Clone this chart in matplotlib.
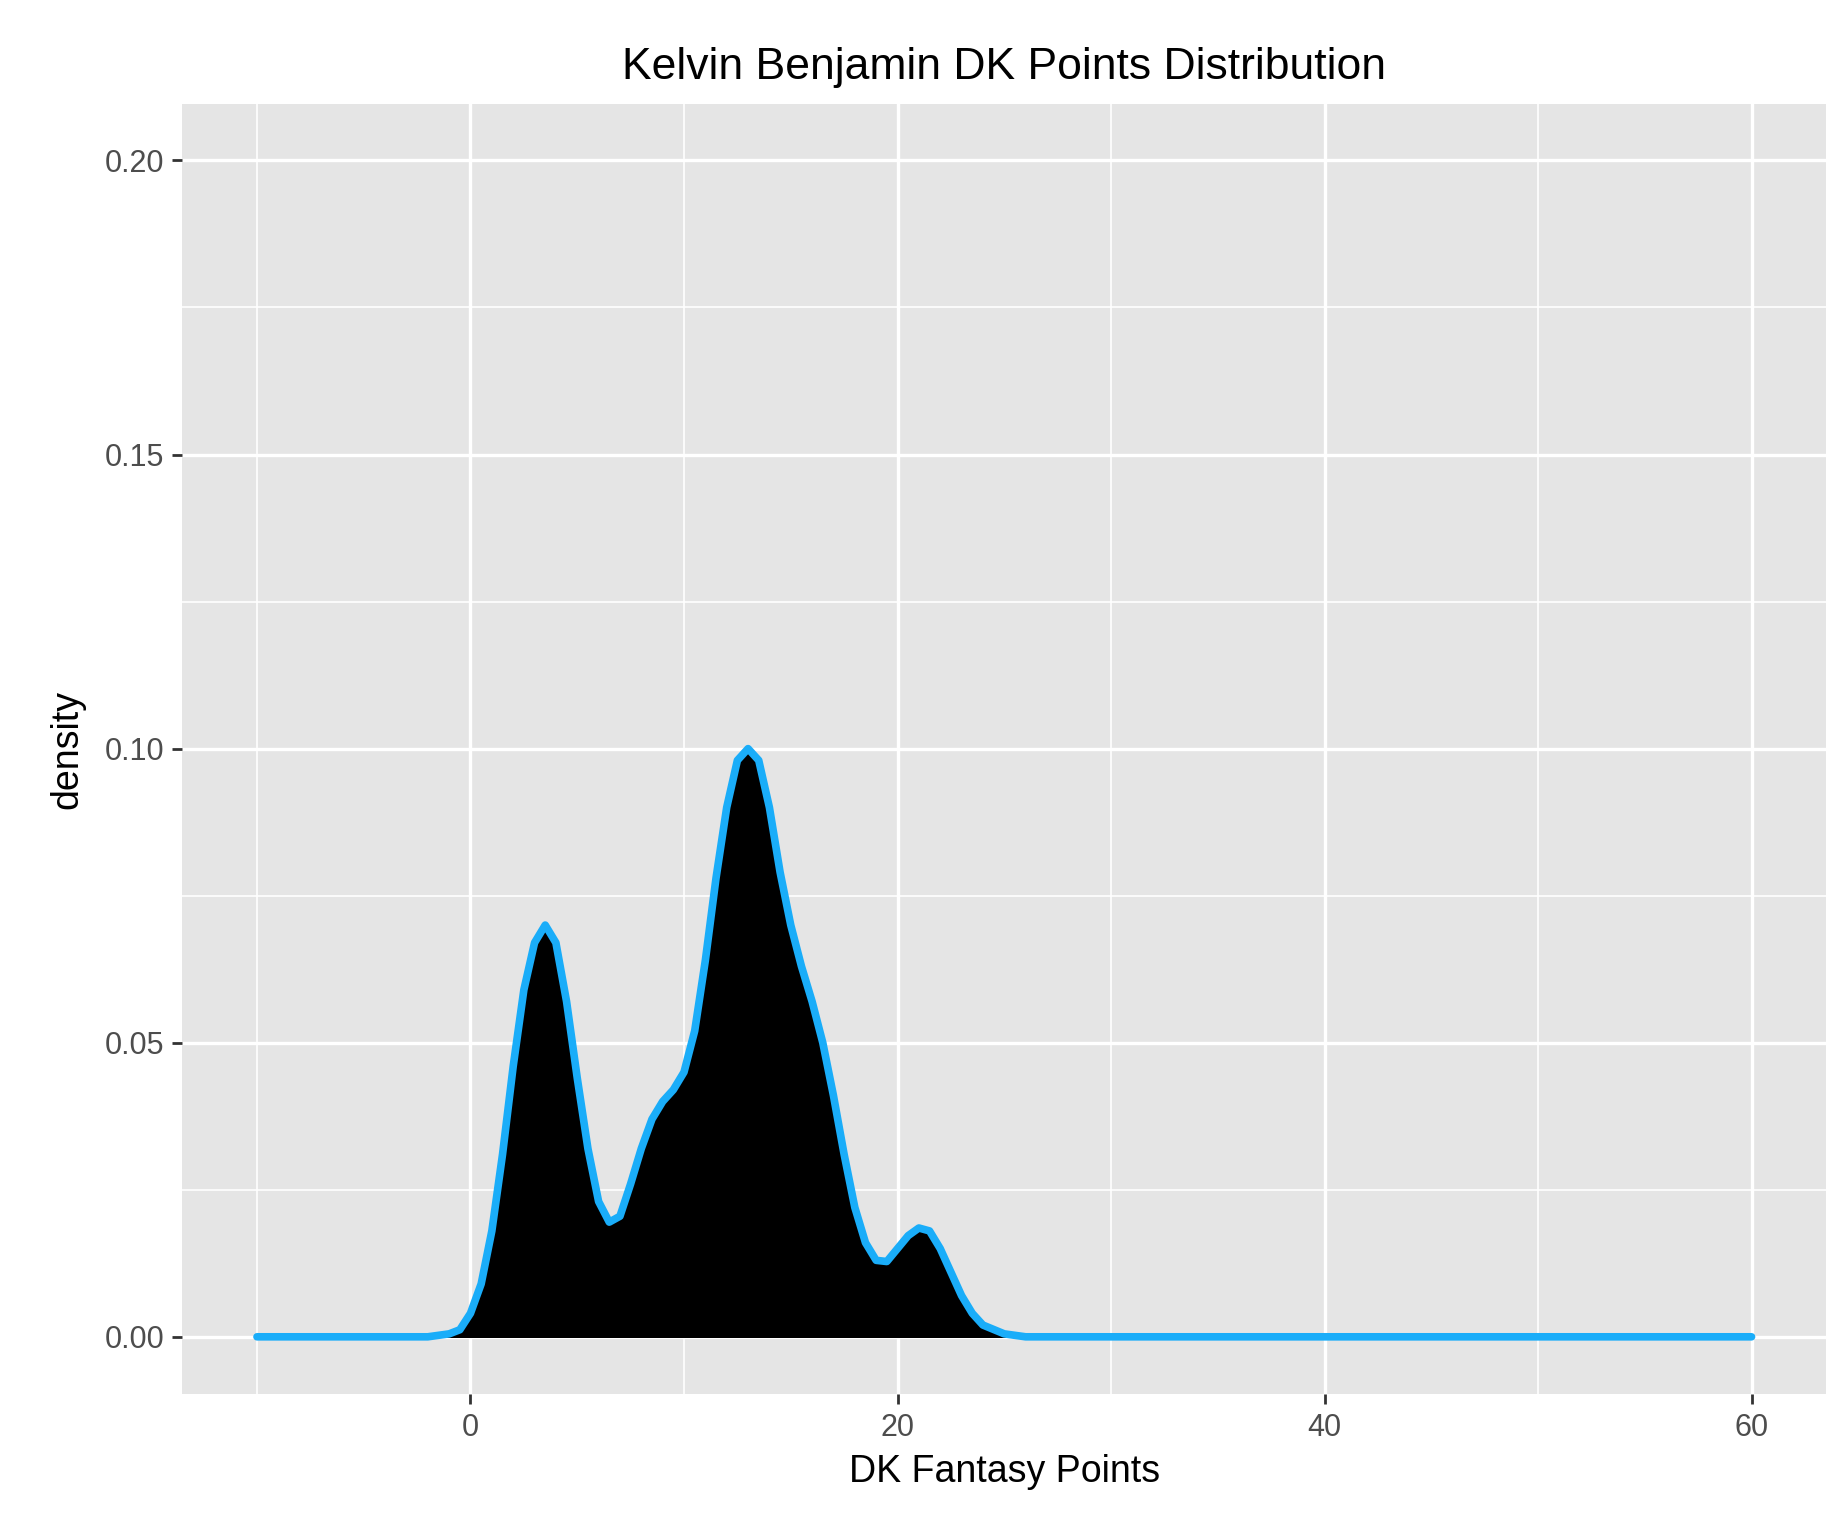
import numpy as np
import matplotlib.pyplot as plt

plt.rcParams['font.family'] = ['Liberation Sans', 'DejaVu Sans']

# density curve
pts_x = [-10, -2, -1, -0.5, 0, 0.5, 1, 1.5, 2, 2.5, 3, 3.5, 4, 4.5, 5, 5.5, 6, 6.5, 7, 7.5, 8, 8.5, 9, 9.5,
         10, 10.5, 11, 11.5, 12, 12.5, 13, 13.5, 14, 14.5, 15, 15.5, 16, 16.5, 17, 17.5, 18, 18.5, 19, 19.5,
         20, 20.5, 21, 21.5, 22, 22.5, 23, 23.5, 24, 25, 26, 60]
density = [0, 0, 0.0005, 0.0012, 0.004, 0.009, 0.018, 0.031, 0.046, 0.059, 0.067, 0.070, 0.067, 0.057, 0.044, 0.032,
           0.023, 0.0195, 0.0205, 0.026, 0.032, 0.037, 0.040, 0.042, 0.045, 0.052, 0.064, 0.078, 0.090, 0.098,
           0.100, 0.098, 0.090, 0.079, 0.070, 0.063, 0.057, 0.050, 0.041, 0.031, 0.022, 0.016, 0.013, 0.0128,
           0.015, 0.0172, 0.0185, 0.018, 0.015, 0.011, 0.007, 0.004, 0.002, 0.0005, 0, 0]

fig = plt.figure(figsize=(18.41, 15.29), dpi=100)
ax = fig.add_axes([0.099, 0.088, 0.893, 0.844])
ax.set_facecolor('#E5E5E5')
for s in ax.spines.values():
    s.set_visible(False)

ax.fill_between(pts_x, density, color='black', zorder=2)
ax.plot(pts_x, density, color='#1AADF9', lw=5.5, solid_capstyle='round',
        solid_joinstyle='round', zorder=3)

ax.set_xlim(-13.5, 63.5)
ax.set_ylim(-0.0098, 0.2096)
ax.set_xticks([0, 20, 40, 60])
ax.set_yticks([0, 0.05, 0.10, 0.15, 0.20])
ax.set_yticklabels(['0.00', '0.05', '0.10', '0.15', '0.20'])
ax.set_xticks([-10, 10, 30, 50], minor=True)
ax.set_yticks([0.025, 0.075, 0.125, 0.175], minor=True)
ax.grid(which='major', color='white', lw=2.4, zorder=0)
ax.grid(which='minor', color='white', lw=1.2, zorder=0)
ax.set_axisbelow(True)
ax.tick_params(which='major', length=7, width=2, color='#333333', labelsize=22, labelcolor='#4D4D4D', pad=6)
ax.tick_params(which='minor', length=0)

ax.set_xlabel('DK Fantasy Points', fontsize=27, labelpad=8)
ax.set_ylabel('density', fontsize=27, labelpad=14)
ax.set_title('Kelvin Benjamin DK Points Distribution', fontsize=32, pad=18)

fig.savefig('out.png', dpi=100)
